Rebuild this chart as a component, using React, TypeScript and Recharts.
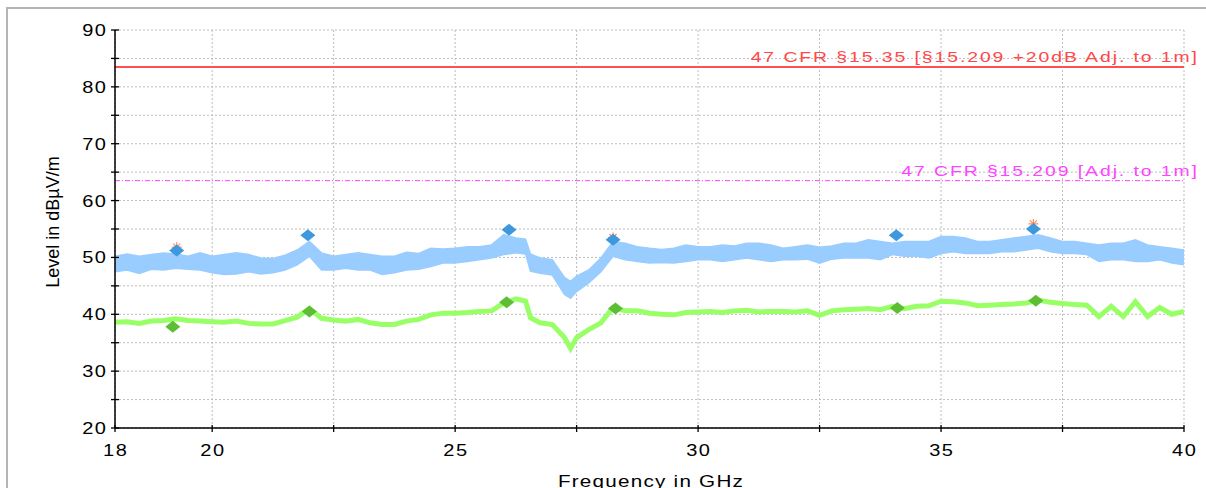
import React from "react";
import {
  ComposedChart,
  Area,
  Line,
  Scatter,
  XAxis,
  YAxis,
  CartesianGrid,
  ReferenceLine,
} from "recharts";

// sweep 18-40 GHz
const FREQ_GHZ = [
  18.0, 18.25, 18.5, 18.75, 19.0, 19.25, 19.5, 19.75, 20.0, 20.25, 20.5, 20.75,
  21.0, 21.25, 21.5, 21.75, 22.0, 22.25, 22.5, 22.75, 23.0, 23.25, 23.5, 23.75,
  24.0, 24.25, 24.5, 24.75, 25.0, 25.25, 25.5, 25.75, 26.0, 26.25, 26.45, 26.55,
  26.75, 27.0, 27.25, 27.375, 27.5, 27.75, 28.0, 28.25, 28.5, 28.75, 29.0, 29.25,
  29.5, 29.75, 30.0, 30.25, 30.5, 30.75, 31.0, 31.25, 31.5, 31.75, 32.0, 32.25,
  32.5, 32.75, 33.0, 33.25, 33.5, 33.75, 34.0, 34.25, 34.5, 34.75, 35.0, 35.25,
  35.5, 35.75, 36.0, 36.25, 36.5, 36.75, 37.0, 37.25, 37.5, 37.75, 38.0, 38.25,
  38.5, 38.75, 39.0, 39.25, 39.5, 39.75, 40.0,
];

// peak trace: lower / upper edge of the noise band
const PEAK_LO = [
  47.5, 47.8, 47.2, 47.9, 47.8, 48.1, 47.9, 47.8, 47.3, 47.0, 47.1, 47.5,
  47.1, 47.3, 47.8, 48.7, 50.2, 47.8, 47.8, 48.1, 47.8, 47.8, 47.0, 47.3,
  47.8, 47.9, 48.4, 49.0, 49.0, 49.3, 49.6, 49.9, 50.5, 50.8, 50.6, 47.6,
  47.2, 46.9, 43.5, 42.8, 44.0, 45.5, 47.5, 50.2, 49.6, 49.3, 49.0, 49.1,
  49.0, 49.3, 49.6, 49.6, 49.3, 49.6, 49.9, 49.6, 49.3, 49.6, 49.6, 49.7,
  49.0, 49.7, 49.9, 49.9, 49.9, 49.6, 50.5, 50.2, 50.2, 49.9, 50.7, 51.0,
  50.7, 50.7, 50.7, 51.0, 51.0, 51.3, 51.6, 51.0, 50.7, 50.7, 50.5, 49.3,
  49.6, 49.6, 49.3, 49.3, 49.6, 49.0, 48.7,
];
const PEAK_HI = [
  50.2, 50.6, 50.2, 50.5, 50.8, 50.6, 50.2, 50.8, 50.2, 50.5, 50.8, 50.5,
  49.9, 49.8, 50.4, 51.3, 52.8, 50.8, 50.2, 50.5, 50.8, 50.5, 50.2, 50.2,
  50.9, 50.7, 51.6, 51.5, 51.6, 51.9, 51.9, 52.2, 54.0, 53.4, 53.2, 50.6,
  49.9, 49.6, 46.5, 45.8, 46.7, 47.8, 49.9, 52.8, 52.5, 51.9, 51.6, 51.4,
  51.6, 52.2, 51.9, 51.9, 52.2, 52.0, 52.5, 52.5, 52.2, 51.6, 51.9, 52.2,
  51.8, 52.0, 52.5, 52.5, 53.1, 52.8, 52.5, 52.8, 52.8, 52.8, 53.7, 53.7,
  53.4, 52.8, 52.8, 53.1, 53.4, 53.7, 54.0, 53.4, 52.8, 52.8, 52.5, 52.2,
  52.5, 52.5, 53.1, 52.2, 51.9, 51.6, 51.3,
];

// average trace
const AVG = [
  38.6, 38.7, 38.4, 38.8, 38.9, 39.2, 38.9, 38.8, 38.7, 38.6, 38.8, 38.4,
  38.3, 38.3, 38.9, 39.5, 41.0, 39.3, 39.0, 38.8, 39.1, 38.5, 38.2, 38.2,
  38.8, 39.1, 39.9, 40.2, 40.2, 40.3, 40.5, 40.6, 42.0, 42.7, 42.3, 39.4,
  38.5, 38.2, 35.9, 34.0, 35.9, 37.3, 38.5, 41.2, 40.6, 40.6, 40.2, 40.0,
  39.9, 40.3, 40.4, 40.5, 40.3, 40.6, 40.7, 40.4, 40.5, 40.5, 40.4, 40.6,
  39.8, 40.6, 40.8, 40.9, 41.0, 40.8, 41.4, 41.0, 41.4, 41.5, 42.3, 42.2,
  42.0, 41.5, 41.6, 41.7, 41.8, 42.0, 42.5, 42.1, 41.9, 41.7, 41.6, 39.6,
  41.4, 39.6, 42.2, 39.6, 41.2, 40.0, 40.5,
];

// final measurement markers
const PK_MARK_F = [19.27, 21.97, 26.11, 28.25, 34.08, 36.9];
const PK_MARK_V = [51.2, 53.9, 54.85, 53.1, 53.9, 55.0];
const AV_MARK_F = [19.19, 22.0, 26.06, 28.3, 34.1, 36.95];
const AV_MARK_V = [37.8, 40.5, 42.1, 41.0, 41.1, 42.4];
const STAR_F = [19.27, 28.25, 36.9];
const STAR_V = [51.8, 53.5, 55.9];

const LIMIT_PK = 83.5;
const LIMIT_PK_TEXT = "47 CFR §15.35 [§15.209 +20dB Adj. to 1m]";
const LIMIT_AV = 63.5;
const LIMIT_AV_TEXT = "47 CFR §15.209 [Adj. to 1m]";

const X_TICKS = [18, 20, 22.5, 25, 27.5, 30, 32.5, 35, 37.5, 40];
const X_LABELS = [18, 20, 25, 30, 35, 40];
const Y_TICKS = [20, 25, 30, 35, 40, 45, 50, 55, 60, 65, 70, 75, 80, 85, 90];
const Y_LABELS = [20, 30, 40, 50, 60, 70, 80, 90];

const FONT = "'Liberation Sans', Arial, sans-serif";
const SX = 1.25; // glyphs in the export are drawn wide

const trace = FREQ_GHZ.map((f, i) => ({ f, band: [PEAK_LO[i], PEAK_HI[i]], avg: AVG[i] }));
const pkMarks = PK_MARK_F.map((f, i) => ({ f, v: PK_MARK_V[i] }));
const avMarks = AV_MARK_F.map((f, i) => ({ f, v: AV_MARK_V[i] }));
const stars = STAR_F.map((f, i) => ({ f, v: STAR_V[i] }));

const WideText = (props: any) => {
  const { x, y, anchor, color = "#000", size = 16, ls = 1.2, children } = props;
  const shift = anchor === "end" ? ls * SX : anchor === "middle" ? (ls * SX) / 2 : 0;
  return (
    <g transform={`translate(${x + shift},${y}) scale(${SX},1)`}>
      <text x={0} y={0} textAnchor={anchor} fontSize={size} fontFamily={FONT} letterSpacing={ls} fill={color}>
        {children}
      </text>
    </g>
  );
};

const XTick = (props: any) => {
  const { x, y, payload } = props;
  return (
    <g>
      <line x1={x} x2={x} y1={y - 3} y2={y + 4} stroke="#000" strokeWidth={1.3} />
      {X_LABELS.includes(payload.value) && (
        <WideText x={x} y={y + 28} anchor="middle">
          {payload.value}
        </WideText>
      )}
    </g>
  );
};

const YTick = (props: any) => {
  const { x, y, payload } = props;
  return (
    <g>
      <line x1={x - 4} x2={x + 4} y1={y} y2={y} stroke="#000" strokeWidth={1.3} />
      {Y_LABELS.includes(payload.value) && (
        <WideText x={x - 9} y={y + 6} anchor="end">
          {payload.value}
        </WideText>
      )}
    </g>
  );
};

const LimitLabel = (props: any) => {
  const { viewBox, text, color, dy } = props;
  const { x, y, width } = viewBox;
  return (
    <WideText x={x + width + 13} y={y - dy} anchor="end" color={color} size={15.5} ls={1.55}>
      {text}
    </WideText>
  );
};

const Diamond = (props: any) => {
  const { cx, cy, fill } = props;
  return <path d={`M${cx - 7.5},${cy} L${cx},${cy - 6} L${cx + 7.5},${cy} L${cx},${cy + 6} Z`} fill={fill} />;
};

const Star = (props: any) => {
  const { cx, cy } = props;
  const r = 5;
  return (
    <g stroke="#FF8A5C" strokeWidth={1.2}>
      <line x1={cx - r} y1={cy} x2={cx + r} y2={cy} />
      <line x1={cx} y1={cy - r} x2={cx} y2={cy + r} />
      <line x1={cx - 3.5} y1={cy - 3.5} x2={cx + 3.5} y2={cy + 3.5} />
      <line x1={cx - 3.5} y1={cy + 3.5} x2={cx + 3.5} y2={cy - 3.5} />
    </g>
  );
};

export default function App() {
  return (
    <div style={{ position: "absolute", left: 0, top: 0, width: 1206, height: 488, overflow: "hidden", background: "#fff" }}>
      <div style={{ position: "absolute", left: 6, top: 7, width: 1400, height: 700, border: "2px solid #B4B4B4" }} />
      <div style={{ position: "absolute", left: 0, top: 0 }}>
        <ComposedChart width={1206} height={488} margin={{ top: 30, right: 22, bottom: 0, left: 0 }}>
          <CartesianGrid stroke="#BDBDBD" strokeDasharray="2 2" />
          <XAxis
            dataKey="f"
            type="number"
            domain={[18, 40]}
            ticks={X_TICKS}
            interval={0}
            height={60}
            tickSize={0}
            tickMargin={0}
            tick={<XTick />}
            axisLine={{ stroke: "#000", strokeWidth: 1.5 }}
            allowDataOverflow
          />
          <YAxis
            type="number"
            domain={[20, 90]}
            ticks={Y_TICKS}
            interval={0}
            width={115}
            tickSize={0}
            tickMargin={0}
            tick={<YTick />}
            axisLine={{ stroke: "#000", strokeWidth: 1.5 }}
            allowDataOverflow
          />
          <ReferenceLine
            y={LIMIT_PK}
            stroke="#FF5050"
            strokeWidth={2}
            label={<LimitLabel text={LIMIT_PK_TEXT} color="#FF4848" dy={4.5} />}
          />
          <ReferenceLine
            y={LIMIT_AV}
            stroke="#FF40FF"
            strokeWidth={1}
            strokeDasharray="5 2 1 2"
            label={<LimitLabel text={LIMIT_AV_TEXT} color="#FF44FF" dy={5} />}
          />
          <Area
            data={trace}
            dataKey="band"
            type="linear"
            stroke="#99CCFF"
            strokeWidth={1.5}
            fill="#99CCFF"
            fillOpacity={1}
            isAnimationActive={false}
            dot={false}
            activeDot={false}
          />
          <Line
            data={trace}
            dataKey="avg"
            type="linear"
            stroke="#99FF66"
            strokeWidth={5}
            dot={false}
            activeDot={false}
            isAnimationActive={false}
          />
          <Scatter data={stars} dataKey="v" shape={<Star />} isAnimationActive={false} />
          <Scatter data={pkMarks} dataKey="v" shape={<Diamond fill="#3D98DD" />} isAnimationActive={false} />
          <Scatter data={avMarks} dataKey="v" shape={<Diamond fill="#5DBE35" />} isAnimationActive={false} />
        </ComposedChart>
      </div>
      <div
        style={{
          position: "absolute",
          left: 53,
          top: 222,
          transform: "translate(-50%, -50%) rotate(-90deg)",
          whiteSpace: "nowrap",
          fontFamily: FONT,
          fontSize: 18,
          lineHeight: "18px",
          color: "#000",
        }}
      >
        Level in dBµV/m
      </div>
      <div style={{ position: "absolute", left: 650.5, top: 473 }}>
        <div
          style={{
            transform: "translateX(-50%) scaleX(1.25)",
            whiteSpace: "nowrap",
            fontFamily: FONT,
            fontSize: 16.5,
            lineHeight: "16px",
            letterSpacing: 1,
            color: "#000",
          }}
        >
          Frequency in GHz
        </div>
      </div>
    </div>
  );
}
